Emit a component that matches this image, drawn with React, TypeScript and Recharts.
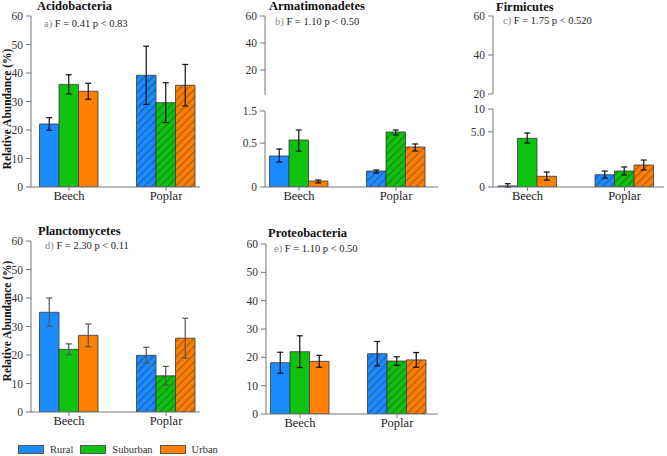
import React from "react";
import { BarChart, Bar, XAxis, YAxis, ErrorBar, Cell } from "recharts";

const W = 667;
const H = 456;
const SERIF = "Liberation Serif, DejaVu Serif, serif";
const AXIS = "#777";

const sites = ["Beech", "Poplar"];
const groups = ["Rural", "Suburban", "Urban"];
const groupColors = ["#1a8cff", "#0ec20e", "#ff8000"];

// rows: Rural, Suburban, Urban; columns: Beech, Poplar
const acidoMeans = [[22.1, 39.2], [36.0, 29.6], [33.6, 35.7]];
const acidoErr = [[2.2, 10.2], [3.4, 7.0], [2.8, 7.3]];

// broken sqrt axis, errors as [below, above]
const armaMeans = [[0.25, 0.066], [0.574, 0.786], [0.0093, 0.416]];
const armaErr = [
  [[0.088, 0.125], [0.015, 0.009]],
  [[0.24, 0.27], [0.08, 0.06]],
  [[0.005, 0.0034], [0.08, 0.065]],
];

const firmiMeans = [[0.002, 0.249], [3.9, 0.42], [0.188, 0.795]];
const firmiErr = [
  [[0.002, 0.016], [0.12, 0.17]],
  [[0.72, 0.89], [0.18, 0.24]],
  [[0.11, 0.18], [0.32, 0.4]],
];

const planctoMeans = [[35.0, 19.9], [22.0, 12.7], [26.9, 25.9]];
const planctoErr = [[5.0, 2.8], [1.9, 3.3], [4.0, 7.0]];

const proteoMeans = [[18.1, 21.3], [22.0, 18.7], [18.6, 19.1]];
const proteoErr = [[3.7, 4.3], [5.6, 1.5], [2.1, 2.6]];

const percentTicks = [0, 10, 20, 30, 40, 50, 60];
const upperTicks = [20, 40, 60];
const armaTicks = [0, 0.5, 1.5];
const armaTickLabels = ["0", "0.5", "1.5"];
const firmiTicks = [0, 5, 10];
const firmiTickLabels = ["0", "5.0", "10"];

const panelTitles = ["Acidobacteria", "Armatimonadetes", "Firmicutes", "Planctomycetes", "Proteobacteria"];
const panelTags = ["a)", "b)", "c)", "d)", "e)"];
const panelStats = ["F = 0.41 p < 0.83", "F = 1.10 p < 0.50", "F = 1.75 p < 0.520", "F = 2.30 p < 0.11", "F = 1.10 p < 0.50"];

function buildRows(means: number[][], errs: any[][]) {
  return sites.map((site, si) => {
    const row: any = { site };
    groups.forEach((g, gi) => {
      row[g] = means[gi][si];
      row[g + "Err"] = errs[gi][si];
    });
    return row;
  });
}

type PanelProps = {
  plot: [number, number, number, number];
  data: any[];
  domain: [number, number];
  ticks: number[];
  tickLabels?: string[];
  scale?: "linear" | "sqrt";
  pad?: [number, number];
  bars?: boolean;
  errColor?: string;
};

function Panel({ plot, data, domain, ticks, tickLabels, scale = "linear", pad = [0, 0], bars = true, errColor = "#111" }: PanelProps) {
  const [l, t, r, b] = plot;
  const xH = 20;
  const margin = { top: t, left: l - 30, right: W - r, bottom: H - b - (bars ? xH : 0) };
  return (
    <div style={{ position: "absolute", left: 0, top: 0 }}>
      <BarChart width={W} height={H} data={data} margin={margin} barGap={0}>
        <XAxis
          dataKey="site"
          hide={!bars}
          height={xH}
          interval={0}
          padding={{ left: pad[0], right: pad[1] }}
          tickSize={4}
          tickMargin={0}
          axisLine={{ stroke: AXIS }}
          tickLine={{ stroke: AXIS }}
          tick={{ fill: "#222", fontSize: 12.5, fontFamily: SERIF }}
        />
        <YAxis
          type="number"
          width={30}
          domain={domain}
          ticks={ticks}
          scale={scale}
          allowDataOverflow
          interval={0}
          tickSize={5}
          tickMargin={3}
          axisLine={{ stroke: AXIS }}
          tickLine={{ stroke: AXIS }}
          tick={{ fill: "#333", fontSize: 11.5, fontFamily: SERIF }}
          tickFormatter={(v: number) => (tickLabels ? tickLabels[ticks.indexOf(v)] : String(v))}
        />
        {bars &&
          groups.map((g, gi) => (
            <Bar key={g} dataKey={g} barSize={19.5} stroke="#3a3a3a" strokeWidth={0.8} isAnimationActive={false}>
              {sites.map((s, si) => (
                <Cell key={s} fill={si === 1 ? `url(#hatch-${gi})` : groupColors[gi]} />
              ))}
              <ErrorBar dataKey={g + "Err"} width={3} stroke={errColor} strokeWidth={1.2} direction="y" />
            </Bar>
          ))}
      </BarChart>
    </div>
  );
}

const titleAt = [[37, 10], [269, 10], [496, 11], [38, 235], [268, 237]];
const statAt = [[44, 27], [275, 25], [503, 24], [45, 249], [274, 252]];

export default function App() {
  const acido = buildRows(acidoMeans, acidoErr);
  const arma = buildRows(armaMeans, armaErr);
  const firmi = buildRows(firmiMeans, firmiErr);
  const plancto = buildRows(planctoMeans, planctoErr);
  const proteo = buildRows(proteoMeans, proteoErr);

  return (
    <div style={{ position: "absolute", left: 0, top: 0, width: W, height: H, background: "#fff", overflow: "hidden", fontFamily: SERIF }}>
      <svg width={0} height={0} style={{ position: "absolute" }}>
        <defs>
          {groupColors.map((c, i) => (
            <pattern key={i} id={`hatch-${i}`} patternUnits="userSpaceOnUse" width={5.5} height={5.5} patternTransform="rotate(45)">
              <rect width={5.5} height={5.5} fill={c} />
              <line x1={2.75} y1={0} x2={2.75} y2={5.5} stroke="#222" strokeOpacity={0.65} strokeWidth={0.8} />
            </pattern>
          ))}
        </defs>
      </svg>

      {/* a) */}
      <Panel plot={[31, 16, 200, 187]} data={acido} domain={[0, 60]} ticks={percentTicks} pad={[-10.5, -14.5]} />
      {/* b) broken axis */}
      <Panel plot={[265, 16, 438, 95]} data={arma} domain={[1.5, 60]} ticks={upperTicks} bars={false} />
      <Panel plot={[265, 111, 438, 187]} data={arma} domain={[0, 1.5]} ticks={armaTicks} tickLabels={armaTickLabels} scale="sqrt" pad={[-14.5, -6.5]} />
      {/* c) broken axis */}
      <Panel plot={[493, 16, 664, 94]} data={firmi} domain={[20, 60]} ticks={upperTicks} bars={false} />
      <Panel plot={[493, 109, 664, 187]} data={firmi} domain={[0, 10]} ticks={firmiTicks} tickLabels={firmiTickLabels} scale="sqrt" pad={[-14, -9]} />
      {/* d) */}
      <Panel plot={[31, 241, 200, 412]} data={plancto} domain={[0, 60]} ticks={percentTicks} pad={[-10.5, -14.5]} errColor="#555" />
      {/* e) */}
      <Panel plot={[266, 244, 438, 414]} data={proteo} domain={[0, 60]} ticks={percentTicks} pad={[-14.5, -7.5]} />

      <svg width={W} height={H} style={{ position: "absolute", left: 0, top: 0, pointerEvents: "none" }}>
        {panelTitles.map((title, i) => (
          <text key={title} x={titleAt[i][0]} y={titleAt[i][1]} fontFamily={SERIF} fontWeight="bold" fontSize={12.5} fill="#111">
            {title}
          </text>
        ))}
        {panelStats.map((stat, i) => (
          <text key={i} x={statAt[i][0]} y={statAt[i][1]} fontFamily={SERIF} fontSize={10.5} fill="#222">
            <tspan fill="#888">{panelTags[i]}</tspan> {stat}
          </text>
        ))}
        {[109, 321].map((cy) => (
          <text key={cy} transform={`translate(11, ${cy}) rotate(-90)`} textAnchor="middle" fontFamily={SERIF} fontWeight="bold" fontSize={11.5} fill="#111">
            Relative Abundance (%)
          </text>
        ))}
      </svg>

      <div style={{ position: "absolute", left: 18, top: 443, display: "flex", alignItems: "center", fontSize: 10.5, color: "#333", lineHeight: "13px" }}>
        {groups.map((g, i) => (
          <div key={g} style={{ display: "flex", alignItems: "center", marginRight: 7 }}>
            <div style={{ width: 24, height: 7, background: groupColors[i], border: "1px solid #555", marginRight: 6 }} />
            <span>{g}</span>
          </div>
        ))}
      </div>
    </div>
  );
}
